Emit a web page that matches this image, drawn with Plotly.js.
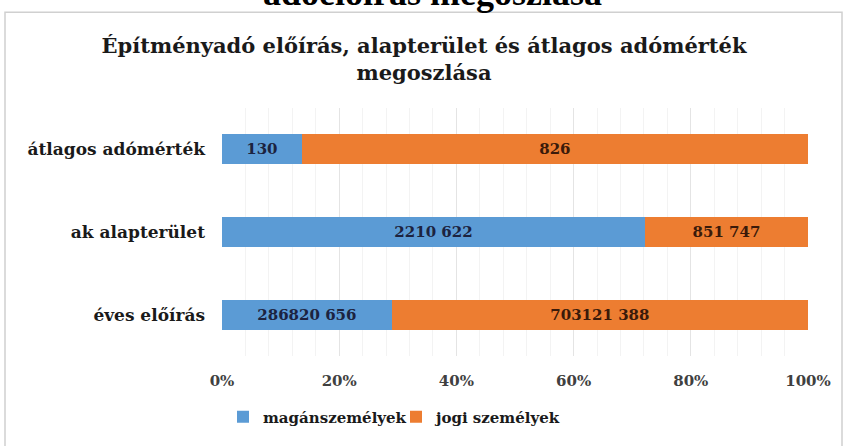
<!DOCTYPE html>
<html>
<head>
<meta charset="utf-8">
<script src="https://cdn.plot.ly/plotly-3.0.1.min.js"></script>
<style>
  html, body { margin: 0; padding: 0; background: #fff; }
  #chart { width: 843px; height: 446px; }
</style>
</head>
<body>
<div id="chart"></div>
<script>
var categories = ['éves előírás', 'ak alapterület', 'átlagos adómérték'];
var maganValues = [286820656, 2210622, 130];
var jogiValues = [703121388, 851747, 826];
var maganLabels = ['286820 656', '2210 622', '130'];
var jogiLabels = ['703121 388', '851 747', '826'];
var tickVals = [0, 20, 40, 60, 80, 100];
var tickText = ['0%', '20%', '40%', '60%', '80%', '100%'];

var serif = 'DejaVu Serif, Liberation Serif, serif';

var data = [{
    y: categories,
    x: maganValues,
    text: maganLabels,
    type: 'bar',
    orientation: 'h',
    name: 'magánszemélyek',
    marker: {color: '#5b9bd5'},
    textposition: 'inside',
    insidetextanchor: 'middle',
    textfont: {family: serif, size: 15, color: '#1c2340', weight: 'bold'},
    hoverinfo: 'skip'
}, {
    y: categories,
    x: jogiValues,
    text: jogiLabels,
    type: 'bar',
    orientation: 'h',
    name: 'jogi személyek',
    marker: {color: '#ed7d31'},
    textposition: 'inside',
    insidetextanchor: 'middle',
    textfont: {family: serif, size: 15, color: '#3a1a0a', weight: 'bold'},
    hoverinfo: 'skip'
}];

// plot area in px: left 222, right 808, top 108.5, bottom 358.5
var layout = {
    width: 843,
    height: 446,
    margin: {l: 222, r: 35, t: 108, b: 88},
    paper_bgcolor: '#fff',
    plot_bgcolor: '#fff',
    barmode: 'stack',
    barnorm: 'percent',
    bargap: 0.64,
    showlegend: true,
    title: {
        text: 'Építményadó előírás, alapterület és átlagos adómérték<br>megoszlása',
        x: 0.503,
        xanchor: 'center',
        y: 1 - 53 / 446,
        yanchor: 'top',
        font: {family: serif, size: 21, color: '#1a1a1a', weight: 'bold'}
    },
    xaxis: {
        range: [0, 100],
        tickvals: tickVals,
        ticktext: tickText,
        tickfont: {family: serif, size: 15, color: '#404040', weight: 'bold'},
        showgrid: true,
        gridcolor: '#e4e4e4',
        gridwidth: 1,
        minor: {dtick: 4, showgrid: true, gridcolor: '#f3f3f3', gridwidth: 1},
        zeroline: false,
        showline: false,
        ticks: '',
        ticklabelstandoff: 14,
        fixedrange: true
    },
    yaxis: {
        tickfont: {family: serif, size: 17, color: '#1a1a1a', weight: 'bold'},
        showgrid: false,
        zeroline: false,
        showline: false,
        ticks: '',
        ticklabelstandoff: 16,
        fixedrange: true
    },
    legend: {
        orientation: 'h',
        x: (396 - 222) / 586,
        xanchor: 'center',
        y: -(420 - 358.5) / 250,
        yanchor: 'middle',
        font: {family: serif, size: 15, color: '#1a1a1a', weight: 'bold'},
        itemwidth: 30,
        entrywidth: 128,
        entrywidthmode: 'pixels',
        traceorder: 'normal'
    },
    shapes: [{
        type: 'rect',
        xref: 'paper', yref: 'paper',
        x0: (5 - 222) / 586, x1: (842 - 222) / 586,
        y0: (358.5 - 450) / 250, y1: (358.5 - 12) / 250,
        line: {color: '#d0d0d0', width: 1.5},
        fillcolor: 'rgba(0,0,0,0)',
        layer: 'below'
    }],
    annotations: [{
        text: 'adóelőírás megoszlása',
        xref: 'paper', yref: 'paper',
        x: (432 - 222) / 586,
        xanchor: 'center',
        y: (358.5 + 30) / 250,
        yanchor: 'top',
        showarrow: false,
        font: {family: 'Liberation Serif, serif', size: 36, color: '#000', weight: 'bold'}
    }]
};

var options = {
    showLink: false,
    displayModeBar: false,
    staticPlot: true
};

Plotly.newPlot('chart', data, layout, options);
</script>
</body>
</html>
